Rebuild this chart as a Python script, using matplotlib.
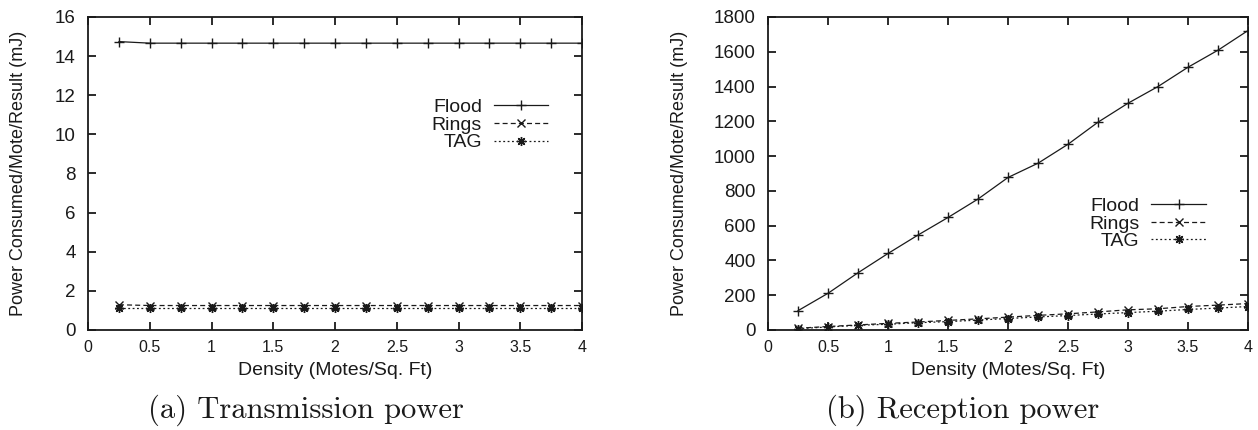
#!/usr/bin/python

import matplotlib
matplotlib.use('Agg')
from matplotlib import pyplot as plt
from matplotlib.ticker import FormatStrFormatter

###### Data ######

density = [0.25, 0.5, 0.75, 1.0, 1.25, 1.5, 1.75, 2.0,
           2.25, 2.5, 2.75, 3.0, 3.25, 3.5, 3.75, 4.0]

# (a) transmission power, mJ
tx_flood = [14.74, 14.66, 14.66, 14.66, 14.66, 14.66, 14.66, 14.66,
            14.66, 14.66, 14.66, 14.66, 14.66, 14.66, 14.66, 14.66]
tx_rings = [1.29, 1.25, 1.25, 1.25, 1.25, 1.25, 1.25, 1.25,
            1.25, 1.25, 1.25, 1.25, 1.25, 1.25, 1.25, 1.25]
tx_tag   = [1.13, 1.13, 1.13, 1.13, 1.13, 1.13, 1.13, 1.13,
            1.13, 1.13, 1.13, 1.13, 1.13, 1.13, 1.13, 1.13]

# (b) reception power, mJ
rx_flood = [111, 211, 329, 440, 546, 647, 753, 877,
            959, 1068, 1195, 1304, 1400, 1511, 1609, 1722]
rx_rings = [10, 20, 29, 38, 46, 55, 64, 74,
            84, 93, 104, 116, 122, 135, 143, 152]
rx_tag   = [8, 17, 27, 33, 42, 48, 57, 66,
            75, 83, 92, 100, 108, 118, 126, 135]

series_names = ['Flood', 'Rings', 'TAG']

###### Settings ######

plt.rcParams['font.family'] = ['Liberation Sans', 'DejaVu Sans']
ink = '#1a1a1a'

styles = [  {'ls': '-',            'marker': '+',       'ms': 6.5},
            {'ls': (0, (4, 2.5)),  'marker': 'x',       'ms': 5.5},
            {'ls': (0, (1.5, 2)),  'marker': (8, 2, 0), 'ms': 6.5}  ]

panels = [  {'rect'   : [0.070, 0.2326, 0.3927, 0.728],
             'series' : [tx_flood, tx_rings, tx_tag],
             'ymax'   : 16, 'ystep': 2,
             'legend' : (0.931, 0.655),
             'ylab_x' : -0.123,
             'caption': '(a) Transmission power', 'cap_x': 0.243},
            {'rect'   : [0.6105, 0.2326, 0.3816, 0.728],
             'series' : [rx_flood, rx_rings, rx_tag],
             'ymax'   : 1800, 'ystep': 200,
             'legend' : (0.912, 0.339),
             'ylab_x' : -0.167,
             'caption': '(b) Reception power', 'cap_x': 0.7655}  ]


def draw_panel(fig, p):
    ax = fig.add_axes(p['rect'])
    for name, ys, st in zip(series_names, p['series'], styles):
        ax.plot(density, ys, color=ink, lw=0.9, ls=st['ls'],
                marker=st['marker'], ms=st['ms'], mew=1.0, label=name)

    ax.set_xlim(0, 4)
    ax.set_ylim(0, p['ymax'])
    ax.set_xticks([x * 0.5 for x in range(9)])
    ax.set_yticks(range(0, p['ymax'] + 1, p['ystep']))
    ax.xaxis.set_major_formatter(FormatStrFormatter('%g'))
    ax.tick_params(direction='in', top=True, right=True, length=6,
                   width=1.3, color=ink, labelcolor=ink)
    ax.tick_params(axis='x', labelsize=11.5, pad=7)
    ax.tick_params(axis='y', labelsize=13.5, pad=9)
    for s in ax.spines.values():
        s.set_linewidth(1.3)
        s.set_color(ink)

    ax.set_xlabel('Density (Motes/Sq. Ft)', fontsize=14, color=ink, labelpad=5)
    ax.set_ylabel('Power Consumed/Mote/Result (mJ)', fontsize=13, color=ink)
    ax.yaxis.set_label_coords(p['ylab_x'], 0.5)

    ax.legend(loc='center right', bbox_to_anchor=p['legend'], frameon=False,
              markerfirst=False, fontsize=14, handlelength=2.8,
              handletextpad=0.6, labelspacing=0.0, borderpad=0,
              borderaxespad=0, labelcolor=ink)

    fig.text(p['cap_x'], 0.0465, p['caption'], family='cmr10', fontsize=22,
             ha='center', va='center', color=ink)


def main():
    fig = plt.figure(figsize=(12.58, 4.30), dpi=100)
    for p in panels:
        draw_panel(fig, p)
    fig.savefig('out.png', dpi=100)


if __name__ == "__main__":
    main()
